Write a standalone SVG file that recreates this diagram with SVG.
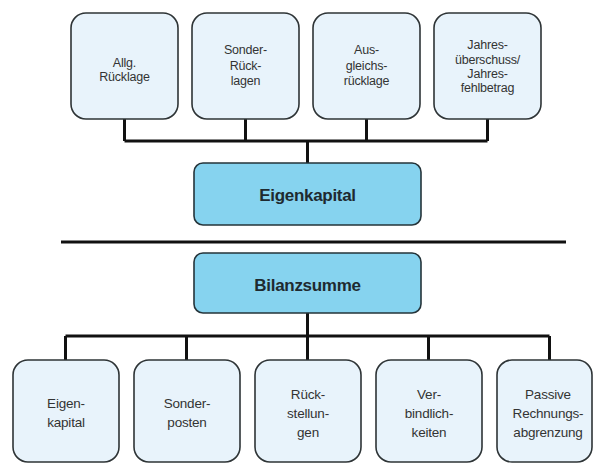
<svg xmlns="http://www.w3.org/2000/svg" width="596" height="464" viewBox="0 0 596 464">
<style>
.lite{fill:#e8f3fb;stroke:#2e3436;stroke-width:1.6}
.main{fill:#86d3ef;stroke:#25343a;stroke-width:1.6}
.t{font-family:"Liberation Sans",Arial,sans-serif;font-size:12.5px;fill:#333;text-anchor:middle;letter-spacing:-0.2px}
.b{font-family:"Liberation Sans",Arial,sans-serif;font-size:13.5px;fill:#333;text-anchor:middle;letter-spacing:-0.2px}
.m{font-family:"Liberation Sans",Arial,sans-serif;font-size:17px;font-weight:bold;fill:#1e2a30;text-anchor:middle;letter-spacing:-0.3px}
.c{fill:none;stroke:#111;stroke-width:3}
</style>
<rect width="596" height="464" fill="#ffffff"/>
<g id="connectors">
<path class="c" d="M124.5 119V141M245.5 119V141M366.5 119V141M487.5 119V141M124.5 141H487.5M307.5 141V163"/>
<path class="c" d="M61 242H566" stroke-width="3.5"/>
<path class="c" d="M307.5 313V336M65.5 336H549.5M65.5 336V360M186.5 336V360M307.5 336V360M428.5 336V360M549.5 336V360"/>
</g>
<g id="n-allg"><rect class="lite" x="71" y="13" width="107" height="106" rx="15"/>
<text class="t" x="124.5" y="67">Allg.</text><text class="t" x="124.5" y="81">Rücklage</text></g>
<g id="n-sonderruecklagen"><rect class="lite" x="192" y="13" width="107" height="106" rx="15"/>
<text class="t" x="245.5" y="54">Sonder-</text><text class="t" x="245.5" y="70">Rück-</text><text class="t" x="245.5" y="85">lagen</text></g>
<g id="n-ausgleich"><rect class="lite" x="313" y="13" width="107" height="106" rx="15"/>
<text class="t" x="366.5" y="54">Aus-</text><text class="t" x="366.5" y="70">gleichs-</text><text class="t" x="366.5" y="85">rücklage</text></g>
<g id="n-jahres"><rect class="lite" x="434" y="13" width="107" height="106" rx="15"/>
<text class="t" x="487.5" y="49">Jahres-</text><text class="t" x="487.5" y="64">überschuss/</text><text class="t" x="487.5" y="78">Jahres-</text><text class="t" x="487.5" y="92">fehlbetrag</text></g>
<g id="n-eigenkapital"><rect class="main" x="194" y="163" width="227" height="62" rx="9"/>
<text class="m" x="307.5" y="201">Eigenkapital</text></g>
<g id="n-bilanzsumme"><rect class="main" x="194" y="253" width="227" height="60" rx="9"/>
<text class="m" x="307.5" y="291">Bilanzsumme</text></g>
<g id="n-eigen"><rect class="lite" x="13" y="360" width="106" height="102" rx="15"/>
<text class="b" x="66" y="408">Eigen-</text><text class="b" x="66" y="427">kapital</text></g>
<g id="n-sonderposten"><rect class="lite" x="134" y="360" width="106" height="102" rx="15"/>
<text class="b" x="187" y="408">Sonder-</text><text class="b" x="187" y="427">posten</text></g>
<g id="n-rueckstellungen"><rect class="lite" x="255" y="360" width="106" height="102" rx="15"/>
<text class="b" x="308" y="399">Rück-</text><text class="b" x="308" y="418">stellun-</text><text class="b" x="308" y="437">gen</text></g>
<g id="n-verbindlichkeiten"><rect class="lite" x="376" y="360" width="106" height="102" rx="15"/>
<text class="b" x="429" y="399">Ver-</text><text class="b" x="429" y="418">bindlich-</text><text class="b" x="429" y="437">keiten</text></g>
<g id="n-rap"><rect class="lite" x="497" y="360" width="95" height="102" rx="15"/>
<text class="b" x="548" y="399">Passive</text><text class="b" x="548" y="418">Rechnungs-</text><text class="b" x="548" y="437">abgrenzung</text></g>
</svg>
